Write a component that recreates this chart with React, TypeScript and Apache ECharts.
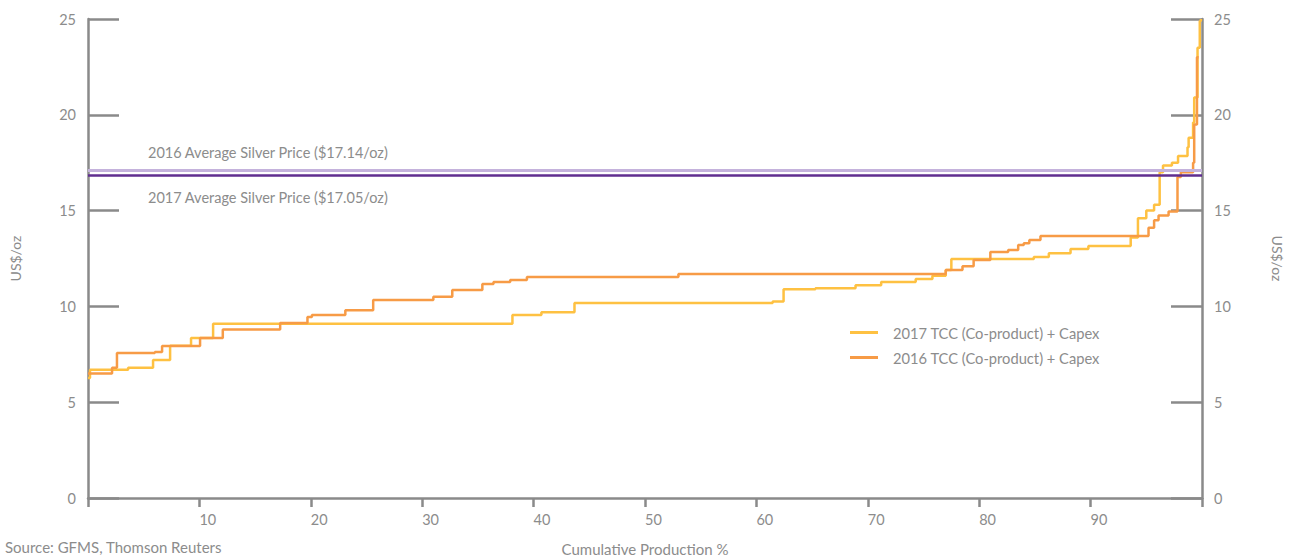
import React, { useEffect, useRef } from "react";
import * as echarts from "echarts";

// Cumulative production % (x) where each cost level (US$/oz) begins
const tcc2017X = [0, 0.18, 3.6, 5.84, 7.37, 9.25, 11.23, 38.1, 40.7, 43.67, 61.46, 62.44, 65.3, 68.9, 71.2, 74.3, 75.8, 77.0, 77.5, 84.9, 86.25, 88.2, 89.8, 93.6, 94.25, 95.0, 95.7, 96.2, 96.5, 97.3, 97.85, 98.7, 98.8, 99.2, 99.3, 99.6, 99.8, 99.9];
const tcc2017Y = [6.26, 6.7, 6.8, 7.2, 7.95, 8.35, 9.1, 9.55, 9.7, 10.18, 10.25, 10.9, 10.95, 11.1, 11.27, 11.43, 11.6, 11.9, 12.47, 12.58, 12.78, 13.0, 13.15, 13.6, 14.6, 15.0, 15.3, 17.0, 17.35, 17.5, 17.85, 18.3, 18.8, 19.6, 20.9, 23.5, 24.9, 25];

const tcc2016X = [0, 2.16, 2.6, 6.0, 6.65, 10.06, 12.1, 17.25, 19.7, 20.1, 23.1, 25.6, 31.0, 32.7, 35.4, 36.4, 37.9, 39.4, 53.0, 77.0, 78.5, 79.5, 81.0, 82.6, 83.5, 84.0, 84.5, 85.5, 95.2, 95.7, 96.1, 97.0, 97.8, 98.1, 99.2, 99.3, 99.55, 99.7];
const tcc2016Y = [6.5, 6.8, 7.57, 7.62, 7.93, 8.35, 8.8, 9.13, 9.45, 9.55, 9.8, 10.33, 10.5, 10.86, 11.17, 11.27, 11.38, 11.53, 11.69, 11.9, 12.1, 12.42, 12.84, 12.94, 13.2, 13.3, 13.47, 13.67, 14.1, 14.5, 14.75, 14.95, 16.75, 17.0, 17.5, 19.5, 23.0, 23.0];

const price2016 = 17.08;
const price2017 = 16.85;

const seriesNames = ["2017 TCC (Co-product) + Capex", "2016 TCC (Co-product) + Capex"];
const priceLabels = ["2016 Average Silver Price ($17.14/oz)", "2017 Average Silver Price ($17.05/oz)"];
const xTicks = [10, 20, 30, 40, 50, 60, 70, 80, 90];

const FONT = "Lato";
const GREY = "#8a8a8a";
const TEXT = "#8c8c8c";
const YELLOW = "#fec142";
const ORANGE = "#f79b46";

export default function App() {
  const ref = useRef<HTMLDivElement>(null);
  useEffect(() => {
    document.body.style.margin = "0";
    const chart = echarts.init(ref.current!, null, { renderer: "svg" });
    const zip = (xs: number[], ys: number[]) => xs.map((x, i) => [x, ys[i]]);
    const yAxisBase = {
      type: "value",
      min: 0,
      max: 25,
      interval: 5,
      splitLine: { show: false },
      axisLine: { show: true, lineStyle: { color: GREY, width: 2.5 } },
      axisTick: { show: true, inside: true, length: 31, lineStyle: { color: GREY, width: 2.5 } },
      axisLabel: { color: TEXT, fontFamily: FONT, fontSize: 14.5, margin: 12 },
      name: "US$/oz",
      nameLocation: "middle",
      nameTextStyle: { color: TEXT, fontFamily: FONT, fontSize: 14 },
    };
    chart.setOption({
      animation: false,
      textStyle: { fontFamily: FONT },
      grid: { left: 88, right: 88, top: 19, bottom: 58, outerBoundsMode: "none" },
      legend: {
        orient: "vertical",
        left: 845,
        top: 320,
        itemWidth: 28,
        itemHeight: 3,
        itemGap: 10,
        icon: "rect",
        data: seriesNames,
        textStyle: { color: TEXT, fontFamily: FONT, fontSize: 14.7, padding: [0, 0, 0, 10] },
      },
      xAxis: {
        type: "value",
        min: 0,
        max: 100,
        interval: 10,
        splitLine: { show: false },
        axisLine: { show: true, onZero: false, lineStyle: { color: GREY, width: 2.5 } },
        axisTick: { show: true, length: 9, lineStyle: { color: GREY, width: 2.5 } },
        axisLabel: {
          color: TEXT,
          fontFamily: FONT,
          fontSize: 14.5,
          margin: 14,
          align: "left",
          formatter: (v: number) => (xTicks.includes(v) ? String(v) : ""),
        },
        name: "Cumulative Production %",
        nameLocation: "middle",
        nameGap: 43,
        nameTextStyle: { color: TEXT, fontFamily: FONT, fontSize: 15 },
      },
      yAxis: [
        { ...yAxisBase, position: "left", nameGap: 66 },
        { ...yAxisBase, position: "right", nameGap: 68, nameRotate: -90 },
      ],
      series: [
        {
          name: seriesNames[0],
          type: "line",
          step: "end",
          showSymbol: false,
          symbol: "none",
          data: zip(tcc2017X, tcc2017Y),
          itemStyle: { color: YELLOW },
          lineStyle: { color: YELLOW, width: 2.5 },
          z: 3,
        },
        {
          name: seriesNames[1],
          type: "line",
          step: "end",
          showSymbol: false,
          symbol: "none",
          data: zip(tcc2016X, tcc2016Y),
          itemStyle: { color: ORANGE },
          lineStyle: { color: ORANGE, width: 2.5 },
          z: 4,
        },
        {
          name: "prices",
          type: "line",
          data: [],
          markLine: {
            silent: true,
            symbol: "none",
            label: { show: false },
            data: [
              { yAxis: price2016, lineStyle: { color: "#c4b2dc", width: 3, type: "solid" } },
              { yAxis: price2017, lineStyle: { color: "#5f2d8f", width: 2.5, type: "solid" } },
            ],
          },
          z: 2,
        },
      ],
      graphic: [
        {
          type: "text",
          left: 148,
          top: 145,
          style: { text: priceLabels[0], fill: TEXT, font: `14.5px ${FONT}` },
        },
        {
          type: "text",
          left: 148,
          top: 190,
          style: { text: priceLabels[1], fill: TEXT, font: `14.5px ${FONT}` },
        },
        {
          type: "text",
          left: 5,
          top: 539,
          style: { text: "Source: GFMS, Thomson Reuters", fill: TEXT, font: `15px ${FONT}` },
        },
      ],
    });
    return () => chart.dispose();
  }, []);
  return <div ref={ref} style={{ width: 1290, height: 556 }} />;
}
